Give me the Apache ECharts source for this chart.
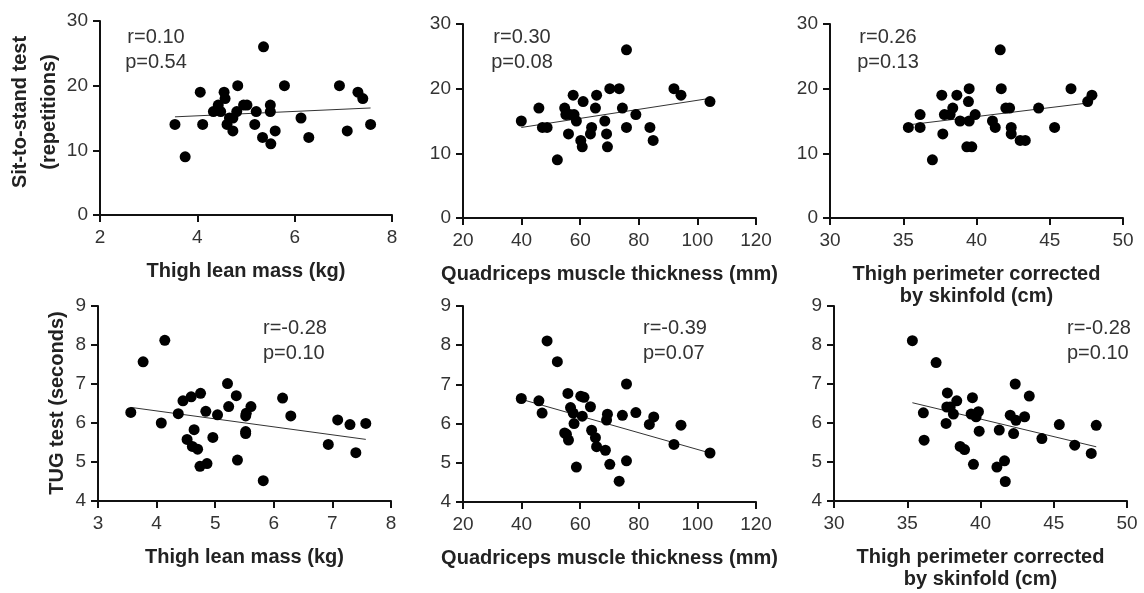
<!DOCTYPE html>
<html>
<head>
<meta charset="utf-8">
<script src="https://cdn.jsdelivr.net/npm/echarts@6/dist/echarts.min.js"></script>
<style>
  html, body { margin: 0; padding: 0; background: #fff; }
  #main { width: 1144px; height: 593px; }
</style>
</head>
<body>
<div id="main"></div>
<script>
// sit-to-stand (repetitions) vs thigh lean mass (kg)
var stsLean = [[3.54,14],[3.75,9],[4.06,19],[4.11,14],[4.33,16],[4.43,17],[4.48,16],[4.55,19],[4.57,18],
  [4.61,14],[4.66,15],[4.73,15],[4.73,13],[4.81,16],[4.83,20],[4.95,17],[5.02,17],[5.21,16],[5.18,14],
  [5.36,26],[5.34,12],[5.50,17],[5.50,16],[5.51,11],[5.60,13],[5.79,20],[6.13,15],[6.29,12],[6.92,20],
  [7.08,13],[7.30,19],[7.40,18],[7.56,14]];
// sit-to-stand vs quadriceps muscle thickness (mm)
var stsQuad = [[39.9,15],[45.9,17],[47.1,14],[48.7,14],[52.2,9],[54.7,17],[55.1,16],[56.0,13],[56.5,16],
  [57.6,19],[57.9,16],[58.7,15],[60.2,12],[60.7,11],[61.0,18],[63.5,13],[63.9,14],[65.2,17],[65.6,19],
  [68.4,15],[69.0,13],[69.3,11],[70.1,20],[73.3,20],[74.4,17],[75.8,26],[75.8,14],[79.0,16],[83.8,14],
  [84.9,12],[92.0,20],[94.4,19],[104.3,18]];
// sit-to-stand vs thigh perimeter corrected by skinfold (cm)
var stsPerim = [[35.35,14],[36.15,16],[36.15,14],[36.99,9],[37.63,19],[37.70,13],[37.81,16],[38.2,16],
  [38.38,17],[38.66,19],[38.88,15],[39.50,20],[39.45,18],[39.50,15],[39.34,11],[39.68,11],[39.91,16],
  [41.09,15],[41.28,14],[41.62,26],[41.69,20],[42.0,17],[42.26,17],[42.37,14],[42.37,13],[42.98,12],
  [43.33,12],[44.24,17],[45.33,14],[46.45,20],[47.59,18],[47.88,19]];
// TUG (seconds) vs thigh lean mass
var tugLean = [[3.56,6.27],[3.77,7.57],[4.14,8.12],[4.08,6.0],[4.37,6.24],[4.45,6.57],[4.52,5.58],[4.59,6.67],
  [4.61,5.40],[4.64,5.83],[4.70,5.33],[4.75,6.76],[4.74,4.89],[4.84,6.30],[4.86,4.96],[4.96,5.63],[5.04,6.21],
  [5.21,7.01],[5.23,6.42],[5.36,6.70],[5.38,5.05],[5.52,6.18],[5.53,6.25],[5.52,5.78],[5.52,5.73],[5.61,6.42],
  [5.82,4.52],[6.15,6.64],[6.29,6.18],[6.93,5.45],[7.09,6.08],[7.30,5.96],[7.40,5.24],[7.57,5.99]];
// TUG vs quadriceps muscle thickness
var tugQuad = [[39.9,6.64],[45.9,6.58],[47.0,6.27],[48.7,8.11],[52.2,7.58],[54.7,5.76],[55.3,5.73],[55.8,6.77],
  [56.0,5.58],[56.7,6.41],[57.6,6.27],[57.9,6.0],[58.7,4.89],[60.2,6.70],[60.7,6.19],[61.3,6.67],[63.5,6.43],
  [63.9,5.83],[65.2,5.64],[65.6,5.41],[68.6,5.32],[69.0,6.09],[69.3,6.24],[70.1,4.96],[73.3,4.53],[74.4,6.21],
  [75.8,7.01],[75.8,5.05],[79.0,6.28],[83.6,5.98],[85.1,6.17],[92.0,5.47],[94.4,5.96],[104.3,5.25]];
// TUG vs thigh perimeter corrected by skinfold
var tugPerim = [[35.35,8.11],[36.10,6.26],[36.15,5.56],[36.97,7.55],[37.65,5.99],[37.74,6.77],[37.70,6.41],
  [37.93,6.41],[38.15,6.23],[38.38,6.57],[38.61,5.40],[38.91,5.32],[39.45,6.65],[39.36,6.23],[39.52,4.94],
  [39.70,6.16],[39.86,6.29],[39.91,5.79],[41.12,4.87],[41.28,5.82],[41.64,5.03],[41.69,4.50],[42.03,6.20],
  [42.26,5.73],[42.37,7.00],[42.42,6.07],[43.01,6.16],[43.33,6.69],[44.19,5.60],[45.38,5.96],[46.43,5.43],
  [47.56,5.22],[47.90,5.94]];

// fitted line end points
var fitStsLean = [[3.54,15.18],[7.56,16.55]];
var fitStsQuad = [[39.9,14.0],[104.3,18.5]];
var fitStsPerim = [[35.35,14.4],[47.88,17.86]];
var fitTugLean = [[3.56,6.40],[7.57,5.58]];
var fitTugQuad = [[39.9,6.62],[104.3,5.25]];
var fitTugPerim = [[35.35,6.52],[47.90,5.39]];

var stats = ['r=0.10\np=0.54', 'r=0.30\np=0.08', 'r=0.26\np=0.13',
             'r=-0.28\np=0.10', 'r=-0.39\np=0.07', 'r=-0.28\np=0.10'];

var xNames = ['Thigh lean mass (kg)', 'Quadriceps muscle thickness (mm)',
              'Thigh perimeter corrected\nby skinfold (cm)'];
var xRanges = [[2, 8, 2], [20, 120, 20], [30, 50, 5], [3, 8, 1], [20, 120, 20], [30, 50, 5]];
var yRanges = [[0, 30, 10], [4, 9, 1]];

var panels = [stsLean, stsQuad, stsPerim, tugLean, tugQuad, tugPerim];
var fits = [fitStsLean, fitStsQuad, fitStsPerim, fitTugLean, fitTugQuad, fitTugPerim];

var grids = [
    {left: 100, top: 21, width: 292, height: 194},
    {left: 463, top: 24, width: 293, height: 194},
    {left: 830, top: 24, width: 293, height: 194},
    {left: 98, top: 306, width: 293, height: 195},
    {left: 463, top: 306, width: 293, height: 196},
    {left: 834, top: 306, width: 293, height: 195}
];

var font = 'Liberation Sans, Arial, sans-serif';
var axisLine = {lineStyle: {color: '#111', width: 2}};
var axisTick = {length: 7, lineStyle: {color: '#111', width: 2}};

var xAxes = [], yAxes = [], series = [], graphics = [];
for (var i = 0; i < 6; i++) {
    var xr = xRanges[i], yr = yRanges[i < 3 ? 0 : 1];
    xAxes.push({
        type: 'value', gridIndex: i, min: xr[0], max: xr[1], interval: xr[2],
        name: xNames[i % 3], nameLocation: 'middle', nameGap: 45,
        nameTextStyle: {fontFamily: font, fontWeight: 'bold', fontSize: 20, color: '#222', lineHeight: 22},
        axisLine: axisLine, axisTick: axisTick, splitLine: {show: false},
        axisLabel: {fontFamily: font, fontSize: 19, color: '#333', margin: 13}
    });
    yAxes.push({
        type: 'value', gridIndex: i, min: yr[0], max: yr[1], interval: yr[2],
        axisLine: {show: true, lineStyle: axisLine.lineStyle}, axisTick: {show: true, length: 7, lineStyle: axisTick.lineStyle},
        splitLine: {show: false},
        axisLabel: {fontFamily: font, fontSize: 19, color: '#333', margin: 12}
    });
    series.push({
        type: 'scatter', xAxisIndex: i, yAxisIndex: i, data: panels[i],
        symbolSize: 11, itemStyle: {color: '#000', opacity: 1}, z: 3
    });
    series.push({
        type: 'line', xAxisIndex: i, yAxisIndex: i, data: fits[i],
        symbol: 'none', lineStyle: {color: '#333', width: 1}, z: 2
    });
}

// r / p annotations
var statPos = [[156, 25, 'center'], [522, 25, 'center'], [888, 25, 'center'],
               [263, 316, 'left'], [643, 316, 'left'], [1067, 316, 'left']];
for (var k = 0; k < 6; k++) {
    graphics.push({
        type: 'text', x: statPos[k][0], y: statPos[k][1],
        style: {text: stats[k], font: '20px ' + font, fill: '#333', align: statPos[k][2], lineHeight: 25}
    });
}
// y axis titles
graphics.push({
    type: 'text', x: 35, y: 112, rotation: Math.PI / 2,
    style: {text: 'Sit-to-stand test\n(repetitions)', font: 'bold 20px ' + font, fill: '#222',
            align: 'center', verticalAlign: 'middle', lineHeight: 29}
});
graphics.push({
    type: 'text', x: 57, y: 403, rotation: Math.PI / 2,
    style: {text: 'TUG test (seconds)', font: 'bold 20px ' + font, fill: '#222',
            align: 'center', verticalAlign: 'middle'}
});

var chart = echarts.init(document.getElementById('main'));
chart.setOption({
    animation: false,
    backgroundColor: '#fff',
    grid: grids,
    xAxis: xAxes,
    yAxis: yAxes,
    series: series,
    graphic: graphics
});
</script>
</body>
</html>
